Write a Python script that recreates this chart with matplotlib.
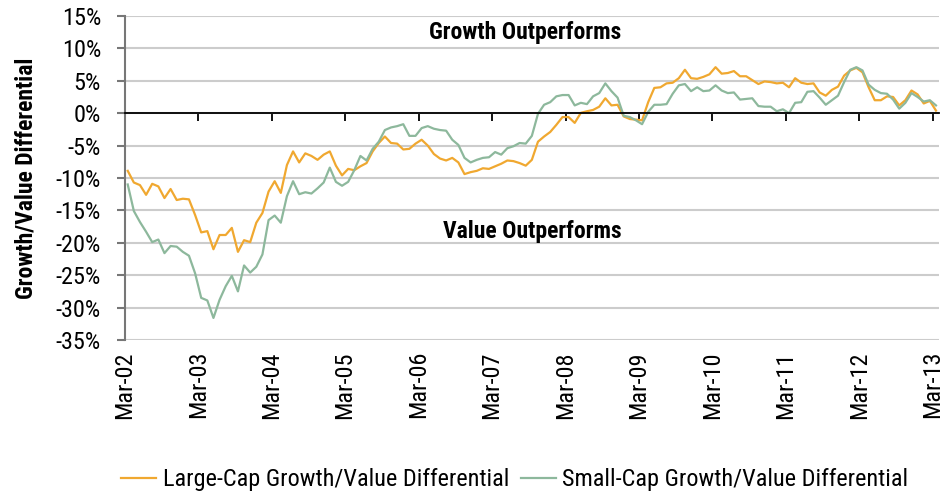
import numpy as np
import matplotlib
matplotlib.use("Agg")
import matplotlib.pyplot as plt
from matplotlib import font_manager as fm

# monthly growth/value differential (%), Mar-02 .. Mar-13
large_cap = [-8.9, -10.7, -11.1, -12.6, -10.9, -11.3, -13.1, -11.7, -13.4, -13.2, -13.3, -15.7,
             -18.4, -18.2, -21.0, -18.8, -18.8, -17.7, -21.4, -19.6, -19.9, -16.9, -15.4, -12.1,
             -10.5, -12.3, -8.0, -5.9, -7.6, -6.2, -6.6, -7.2, -6.4, -5.9, -8.1, -9.6,
             -8.6, -8.8, -8.2, -7.7, -5.9, -4.6, -3.6, -4.6, -4.7, -5.6, -5.5, -4.7,
             -4.1, -5.0, -6.3, -7.0, -7.3, -6.9, -7.6, -9.4, -9.1, -8.9, -8.5, -8.6,
             -8.2, -7.8, -7.3, -7.4, -7.7, -8.1, -7.2, -4.4, -3.6, -2.9, -1.8, -0.6,
             -0.6, -1.5, 0.05, 0.3, 0.5, 1.0, 2.3, 1.2, 1.3, -0.5, -0.9, -1.0,
             -1.1, 1.7, 3.9, 4.0, 4.6, 4.7, 5.4, 6.7, 5.4, 5.3, 5.6, 6.0,
             7.1, 6.1, 6.2, 6.5, 5.7, 5.7, 5.1, 4.5, 4.9, 4.8, 4.6, 4.7,
             4.0, 5.4, 4.7, 4.5, 4.6, 3.2, 2.7, 3.6, 4.1, 5.8, 6.6, 7.0,
             6.3, 4.0, 2.0, 2.0, 2.6, 2.5, 1.2, 2.0, 3.5, 2.9, 1.5, 1.9,
             0.4]
small_cap = [-11.0, -15.1, -16.8, -18.3, -19.9, -19.5, -21.6, -20.5, -20.6, -21.4, -22.0, -24.7,
             -28.5, -28.9, -31.6, -28.8, -26.7, -25.1, -27.5, -23.5, -24.6, -23.7, -21.8, -16.5,
             -15.8, -16.9, -12.8, -10.5, -12.5, -12.2, -12.4, -11.6, -10.7, -8.4, -10.6, -11.2,
             -10.6, -8.8, -6.6, -7.3, -5.5, -4.4, -2.6, -2.2, -2.0, -1.7, -3.5, -3.5,
             -2.3, -2.0, -2.4, -2.6, -2.7, -4.1, -4.9, -6.9, -7.6, -7.2, -6.9, -6.8,
             -6.0, -6.4, -5.4, -5.1, -4.6, -4.7, -3.5, -0.1, 1.3, 1.7, 2.6, 2.8,
             2.8, 1.2, 1.6, 1.4, 2.6, 3.1, 4.6, 3.4, 2.4, -0.4, -0.6, -1.1,
             -1.7, 0.2, 1.3, 1.3, 1.4, 3.0, 4.3, 4.5, 3.4, 4.0, 3.4, 3.5,
             4.3, 3.5, 3.1, 3.2, 2.1, 2.2, 2.3, 1.1, 1.0, 1.0, 0.3, 0.6,
             0.0, 1.6, 1.7, 3.3, 3.4, 2.4, 1.3, 2.0, 2.7, 4.8, 6.7, 7.1,
             6.6, 4.4, 3.6, 3.1, 3.0, 2.1, 0.7, 1.6, 3.1, 2.5, 1.8, 2.0,
             1.2]
tick_labels = ['Mar-02', 'Mar-03', 'Mar-04', 'Mar-05', 'Mar-06', 'Mar-07',
               'Mar-08', 'Mar-09', 'Mar-10', 'Mar-11', 'Mar-12', 'Mar-13']
y_ticks = [15, 10, 5, 0, -5, -10, -15, -20, -25, -30, -35]

# look for a narrow font (the original uses an Arial Narrow style face)
fonts = fm.fontManager.ttflist
names = {f.name for f in fonts}
stretch = 'normal'
scale = 1.0
if 'Liberation Sans Narrow' in names:
    family = 'Liberation Sans Narrow'
elif 'Roboto Condensed' in names:
    family = 'Roboto Condensed'
elif any(f.name == 'DejaVu Sans' and f.stretch in ('condensed', 'semi-condensed') for f in fonts):
    family, stretch, scale = 'DejaVu Sans', 'condensed', 0.85
else:
    family, scale = 'Liberation Sans', 0.8

size = 17.5 * scale
bold_size = 17 * scale

plt.rcParams['font.family'] = [family, 'DejaVu Sans']
plt.rcParams['font.size'] = size
plt.rcParams['font.stretch'] = stretch

orange = '#F0A830'
green = '#8DB89C'

n = len(large_cap)
x = np.arange(n)
tick_pos = np.arange(len(tick_labels)) * 12 - 0.5

fig = plt.figure(figsize=(9.43, 4.92), dpi=100)
ax = fig.add_axes([0.1322, 0.309, 0.8636, 0.6585])

ax.plot(x, large_cap, color=orange, lw=1.6, label='Large-Cap Growth/Value Differential')
ax.plot(x, small_cap, color=green, lw=1.6, label='Small-Cap Growth/Value Differential')

ax.set_xlim(-0.5, n - 0.5)
ax.set_ylim(-35, 15)
ax.set_yticks(y_ticks)
ax.set_yticklabels([f'{v}%' for v in y_ticks])
ax.yaxis.grid(True, color='#cccccc', lw=1.5)
ax.set_axisbelow(True)

for s in ['top', 'right']:
    ax.spines[s].set_visible(False)
ax.spines['left'].set_color('#777777')
ax.spines['left'].set_linewidth(1.5)
ax.spines['bottom'].set_position(('data', 0))
ax.spines['bottom'].set_color('black')
ax.spines['bottom'].set_linewidth(1.3)
ax.set_xticks(tick_pos)
ax.tick_params(axis='x', direction='out', length=6, width=1.3, color='black', labelbottom=False)
ax.tick_params(axis='y', direction='out', length=6, width=1.5, color='#777777', pad=11)

sec = ax.secondary_xaxis('bottom')
sec.set_xticks(tick_pos, tick_labels, rotation=90)
sec.tick_params(length=0, pad=8)
sec.spines['bottom'].set_visible(False)

ax.set_ylabel('Growth/Value Differential', fontweight='bold', fontsize=bold_size, labelpad=13)

ax.text(0.4916, 0.9475, 'Growth Outperforms', transform=ax.transAxes,
        ha='center', va='center', fontweight='bold', fontsize=bold_size)
ax.text(0.5, 0.336, 'Value Outperforms', transform=ax.transAxes,
        ha='center', va='center', fontweight='bold', fontsize=bold_size)

fig.legend(loc='center', bbox_to_anchor=(0.546, 0.025), ncol=2, frameon=False,
           handlelength=1.45, handletextpad=0.25, columnspacing=0.5)

fig.savefig('out.png', dpi=100)
